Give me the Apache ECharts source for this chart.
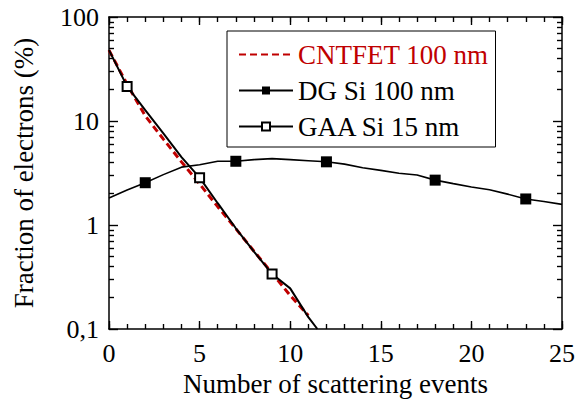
<!DOCTYPE html>
<html>
<head>
<meta charset="utf-8">
<script src="https://cdn.jsdelivr.net/npm/echarts@6/dist/echarts.min.js"></script>
<style>html,body{margin:0;padding:0;background:#fff;}#c{width:575px;height:401px;}</style>
</head>
<body>
<div id="c"></div>
<script>
// ---- data ----
var cntX = [0, 1, 2, 3, 4, 5, 6, 7, 8, 9, 10, 11];
var cntY = [48, 22.5, 11.2, 6.7, 4.05, 2.48, 1.5, 0.92, 0.56, 0.345, 0.21, 0.135];

var dgX = [0, 1, 2, 3, 4, 5, 6, 7, 8, 9, 10, 11, 12, 13, 14, 15, 16, 17, 18, 19, 20, 21, 22, 23, 24, 25];
var dgY = [1.82, 2.17, 2.55, 3.05, 3.6, 3.8, 4.1, 4.1, 4.25, 4.35, 4.25, 4.15, 4.05, 3.85, 3.55, 3.35, 3.15, 3.03, 2.7, 2.5, 2.32, 2.18, 1.98, 1.78, 1.68, 1.58];
var dgMarked = [2, 7, 12, 18, 23];

var gaaX = [0, 1, 2, 3, 4, 5, 6, 7, 8, 9, 10, 11, 11.5];
var gaaY = [48, 21.5, 12.7, 7.6, 4.5, 2.85, 1.62, 0.93, 0.555, 0.338, 0.246, 0.13, 0.1];
var gaaMarked = [1, 5, 9];

var seriesNames = ['CNTFET 100 nm', 'DG Si 100 nm', 'GAA Si 15 nm'];
var xTitle = 'Number of scattering events';
var yTitle = 'Fraction of electrons (%)';
var yMinorTicks = [0.2, 0.3, 0.4, 0.5, 0.6, 0.7, 0.8, 0.9, 2, 3, 4, 5, 6, 7, 8, 9, 20, 30, 40, 50, 60, 70, 80, 90];

// ---- build ----
var RED = '#c00000';
var FONT = 'Liberation Serif';
var X_MIN = 0, X_MAX = 25, Y_MIN = 0.1, Y_MAX = 100;
var G = { left: 109, right: 13, top: 17, bottom: 72 };
var PLOT_W = 575 - G.left - G.right, PLOT_H = 401 - G.top - G.bottom;

function pairs(xs, ys, marked) {
  return xs.map(function (x, i) {
    var item = { value: [x, ys[i]] };
    if (marked && marked.indexOf(x) < 0) item.symbol = 'none';
    return item;
  });
}

function xAxis(pos, labels) {
  var a = {
    type: 'value', min: X_MIN, max: X_MAX, interval: 5, position: pos, gridIndex: 0,
    axisLine: { show: true, onZero: false, lineStyle: { color: '#000', width: 1.5 } },
    axisTick: { show: true, inside: true, length: 8, lineStyle: { color: '#000', width: 1.2 } },
    minorTick: { show: true, splitNumber: 5, length: 5, lineStyle: { color: '#000', width: 1.2 } },
    splitLine: { show: false },
    axisLabel: { show: false }
  };
  if (labels) {
    a.axisLabel = { show: true, color: '#000', fontFamily: FONT, fontSize: 26, margin: 11 };
    a.name = xTitle;
    a.nameLocation = 'middle';
    a.nameGap = 40;
    a.nameTextStyle = { color: '#000', fontFamily: FONT, fontSize: 27 };
  }
  return a;
}

function yAxis(pos, labels, minor) {
  var a = {
    type: 'log', logBase: 10, min: Y_MIN, max: Y_MAX, position: pos, gridIndex: 0,
    axisLine: { show: !minor, onZero: false, lineStyle: { color: '#000', width: 1.5 } },
    axisTick: { show: true, inside: true, length: minor ? 5 : 9, lineStyle: { color: '#000', width: 1.2 } },
    splitLine: { show: false },
    axisLabel: { show: false }
  };
  if (minor) a.axisTick.customValues = yMinorTicks;
  if (labels) {
    a.axisLabel = {
      show: true, color: '#000', fontFamily: FONT, fontSize: 26, margin: 10,
      formatter: function (v) { return String(v).replace('.', ','); }
    };
    a.name = yTitle;
    a.nameLocation = 'middle';
    a.nameGap = 72;
    a.nameRotate = 90;
    a.nameTextStyle = { color: '#000', fontFamily: FONT, fontSize: 27 };
  }
  return a;
}

var grids = [{ left: G.left, right: G.right, top: G.top, bottom: G.bottom, outerBoundsMode: 'none' }];
var xAxes = [xAxis('bottom', true), xAxis('top', false)];
var yAxes = [yAxis('left', true, false), yAxis('left', false, true), yAxis('right', false, false), yAxis('right', false, true)];

// backup tick marks: thin helper grids along the frame whose split lines act as ticks
function hidden(type, gi) {
  return { type: type, gridIndex: gi, axisLine: { show: false }, axisTick: { show: false },
    axisLabel: { show: false }, splitLine: { show: false } };
}
function splitX(gi, interval) {
  return { type: 'value', gridIndex: gi, min: X_MIN, max: X_MAX, interval: interval,
    axisLine: { show: false }, axisTick: { show: false }, axisLabel: { show: false },
    splitLine: { show: true, lineStyle: { color: '#000', width: 1.2 } } };
}
function splitY(gi, minor) {
  var a = { type: 'log', logBase: 10, gridIndex: gi, min: Y_MIN, max: Y_MAX,
    axisLine: { show: false }, axisTick: { show: false }, axisLabel: { show: false },
    splitLine: { show: true, lineStyle: { color: '#000', width: 1.2 } } };
  if (minor) a.axisTick.customValues = yMinorTicks;
  return a;
}
function addXTickGrid(top, len, interval) {
  var gi = grids.length;
  grids.push({ left: G.left, width: PLOT_W, top: top, height: len, outerBoundsMode: 'none' });
  xAxes.push(splitX(gi, interval));
  yAxes.push(hidden('value', gi));
}
function addYTickGrid(left, len, minor) {
  var gi = grids.length;
  grids.push({ left: left, width: len, top: G.top, height: PLOT_H, outerBoundsMode: 'none' });
  xAxes.push(hidden('value', gi));
  yAxes.push(splitY(gi, minor));
}
var yBottom = G.top + PLOT_H, xRight = G.left + PLOT_W;
addXTickGrid(yBottom - 8, 8, 5);
addXTickGrid(yBottom - 5, 5, 1);
addXTickGrid(G.top, 8, 5);
addXTickGrid(G.top, 5, 1);
addYTickGrid(G.left, 9, false);
addYTickGrid(G.left, 5, true);
addYTickGrid(xRight - 9, 9, false);
addYTickGrid(xRight - 5, 5, true);

var option = {
  animation: false,
  backgroundColor: '#fff',
  grid: grids,
  legend: {
    left: 227, top: 31, orient: 'vertical',
    padding: [10, 7, 7, 11],
    itemGap: 9, itemWidth: 54, itemHeight: 10,
    borderColor: '#000', borderWidth: 1,
    textStyle: { fontFamily: FONT, fontSize: 27, color: '#000' },
    data: [
      { name: seriesNames[0], textStyle: { color: RED },
        itemStyle: { color: 'rgba(0,0,0,0)', borderColor: 'rgba(0,0,0,0)', borderWidth: 0 } },
      { name: seriesNames[1] },
      { name: seriesNames[2] }
    ]
  },
  xAxis: xAxes,
  yAxis: yAxes,
  series: [
    {
      name: seriesNames[0], type: 'line', xAxisIndex: 0, yAxisIndex: 0,
      data: pairs(cntX, cntY, null), symbol: 'none', clip: true,
      lineStyle: { color: RED, width: 3, type: [7, 4] },
      itemStyle: { color: RED }
    },
    {
      name: seriesNames[1], type: 'line', xAxisIndex: 0, yAxisIndex: 0,
      data: pairs(dgX, dgY, dgMarked), symbol: 'rect', symbolSize: 11, clip: true,
      showAllSymbol: true,
      lineStyle: { color: '#000', width: 1.6 },
      itemStyle: { color: '#000' }
    },
    {
      name: seriesNames[2], type: 'line', xAxisIndex: 0, yAxisIndex: 0,
      data: pairs(gaaX, gaaY, gaaMarked), symbol: 'emptyRect', symbolSize: 9, clip: true,
      showAllSymbol: true,
      lineStyle: { color: '#000', width: 2 },
      itemStyle: { color: '#000', borderColor: '#000', borderWidth: 1 }
    }
  ]
};

var chart = echarts.init(document.getElementById('c'), null, { renderer: 'svg' });
chart.setOption(option);
</script>
</body>
</html>
